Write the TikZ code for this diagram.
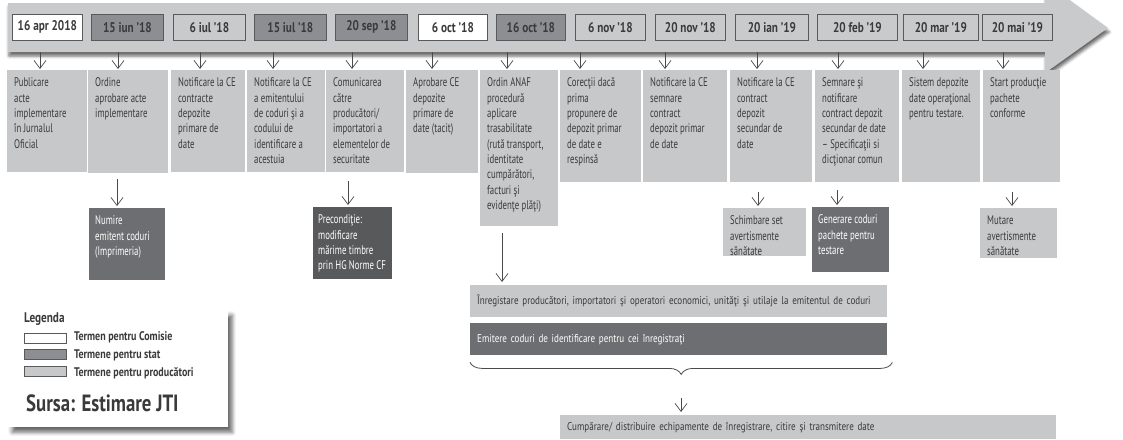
\documentclass[tikz,border=0pt]{standalone}
\usepackage{fontspec}
\setmainfont{PT Sans}[FakeStretch=0.7]
\newfontfamily\widef{PT Sans}[FakeStretch=0.8]
\usetikzlibrary{arrows.meta,shadows.blur,decorations.pathreplacing}
\definecolor{bandc}{HTML}{C9CACC}
\definecolor{litec}{HTML}{C7C8CA}
\definecolor{midc}{HTML}{8D8E91}
\definecolor{darkc}{HTML}{6D6E71}
\definecolor{darkerc}{HTML}{58595B}
\definecolor{inkc}{HTML}{3A3A3C}
\definecolor{edgec}{HTML}{58595B}
\definecolor{arrc}{HTML}{4A4A4C}
\newcommand\boxfont{\fontsize{12.5}{15.3}\selectfont}
\newcommand\datefont{\widef\fontsize{14}{16}\selectfont\bfseries}
\tikzset{
  lbox/.style={fill=litec, text=inkc, anchor=north west, inner xsep=7pt, inner ysep=6pt},
  dbox/.style={fill=darkc, text=white, anchor=north west, inner xsep=6pt, inner ysep=6pt},
  pbox/.style={fill=darkerc, text=white, anchor=north west, inner xsep=5pt, inner ysep=6pt},
  datebox/.style={draw=edgec, line width=0.8pt, anchor=north west, minimum height=26pt, inner sep=0pt, text=inkc, font=\datefont},
  arr/.style={draw=arrc, line width=0.7pt, -{Straight Barb[length=8pt,width=12pt]}},
  widebox/.style={anchor=north west, inner xsep=7pt, inner ysep=0pt, align=left, font=\widef\fontsize{11.3}{13}\selectfont},
  legtext/.style={anchor=west, inner sep=0pt, text=inkc, font=\widef\fontsize{12.5}{15}\selectfont\bfseries},
  swatch/.style={draw=edgec, line width=0.7pt, minimum width=42pt, minimum height=10pt, inner sep=0pt, anchor=north west},
}
% name, x, y, w, h, style, lines
\newcommand\tb[7]{\node[#6] (#1) at (#2,#3) {\parbox[t][\dimexpr#5pt-12pt\relax][t]{\dimexpr#4pt-10pt\relax}{\boxfont\begin{tabular}[t]{@{}l@{}}#7\end{tabular}}};}
\begin{document}
\begin{tikzpicture}[x=1pt,y=-1pt]
\useasboundingbox (0,0) rectangle (1123,439);
% band arrow
\fill[bandc, blur shadow={shadow xshift=1pt, shadow yshift=-4pt, shadow blur radius=3pt, shadow opacity=60}]
  (8,3) -- (1045,3) -- (1045,-18) -- (1108,28) -- (1045,73) -- (1045,52) -- (8,52) -- cycle;
\coordinate (bandS) at (0,52);
% date boxes
\node[datebox, fill=white, minimum width=70pt] (d1) at (12,14) {16 apr 2018};
\node[datebox, fill=midc, minimum width=72pt] (d2) at (91,14) {15 iun ’18};
\node[datebox, fill=bandc, minimum width=72pt] (d3) at (173,14) {6 iul ’18};
\node[datebox, fill=midc, minimum width=72pt] (d4) at (254,14) {15 iul ’18};
\node[datebox, fill=midc, minimum width=72pt] (d5) at (335,14) {20 sep ’18};
\node[datebox, fill=white, minimum width=69pt] (d6) at (418,14) {6 oct ’18};
\node[datebox, fill=midc, minimum width=69pt] (d7) at (496,14) {16 oct ’18};
\node[datebox, fill=bandc, minimum width=70pt] (d8) at (575,14) {6 nov ’18};
\node[datebox, fill=bandc, minimum width=70pt] (d9) at (655,14) {20 nov ’18};
\node[datebox, fill=bandc, minimum width=73pt] (d10) at (735,14) {20 ian ’19};
\node[datebox, fill=bandc, minimum width=80pt] (d11) at (817,14) {20 feb ’19};
\node[datebox, fill=bandc, minimum width=75pt] (d12) at (903,14) {20 mar ’19};
\node[datebox, fill=bandc, minimum width=70pt] (d13) at (982,14) {20 mai ’19};
% top row boxes
\tb{b1}{7}{70}{76}{102}{lbox}{Publicare\\acte\\implementare\\în Jurnalul\\Oficial}
\tb{b2}{88}{70}{76}{103}{lbox}{Ordine\\aprobare acte\\implementare}
\tb{b3}{171}{70}{70}{102}{lbox}{Notificare la CE\\contracte\\depozite\\primare de\\date}
\tb{b4}{247}{70}{74}{102}{lbox}{Notificare la CE\\a emitentului\\de coduri şi a\\codului de\\identificare a\\acestuia}
\tb{b5}{326}{70}{74}{102}{lbox}{Comunicarea\\către\\producători/\\importatori a\\elementelor de\\securitate}
\tb{b6}{406}{70}{68}{103}{lbox}{Aprobare CE\\depozite\\primare de\\date (tacit)}
\tb{b7}{480}{70}{74}{156}{lbox}{Ordin ANAF\\procedură\\aplicare\\trasabilitate\\(rută transport,\\identitate\\cumpărători,\\facturi şi\\evidenţe plăţi)}
\tb{b8}{560}{70}{77}{112}{lbox}{Corecţii dacă\\prima\\propunere de\\depozit primar\\de date e\\respinsă}
\tb{b9}{643}{70}{80}{112}{lbox}{Notificare la CE\\semnare\\contract\\depozit primar\\de date}
\tb{b10}{730}{70}{78}{112}{lbox}{Notificare la CE\\contract\\depozit\\secundar de\\date}
\tb{b11}{815}{70}{80}{112}{lbox}{Semnare şi\\notificare\\contract depozit\\secundar de date\\– Specificaţii si\\dicţionar comun}
\tb{b12}{902}{70}{74}{112}{lbox}{Sistem depozite\\date operaţional\\pentru testare.}
\tb{b13}{983}{70}{73}{112}{lbox}{Start producţie\\pachete\\conforme}
% arrows from band
\foreach \b/\x in {b1/40,b2/118,b3/200,b4/273,b5/352,b6/432,b7/507,b8/580,b9/665,b10/757,b11/838,b12/923,b13/1003}
  \draw[arr, shorten >=1pt] (bandS -| \x,0) -- (\b.north -| \x,0);
% second row
\tb{n1}{89}{208}{74}{72}{dbox}{Numire\\emitent coduri\\(Imprimeria)}
\tb{n2}{313}{207}{79}{72}{pbox}{Precondiţie:\\modificare\\mărime timbre\\prin HG Norme CF}
\tb{n3}{723}{208}{79}{48}{lbox}{Schimbare set\\avertismente\\sănătate}
\tb{n4}{812}{207}{75}{65}{dbox}{Generare coduri\\pachete pentru\\testare}
\tb{n5}{980}{208}{73}{50}{lbox}{Mutare\\avertismente\\sănătate}
\draw[arr, shorten <=6pt, shorten >=2pt] (b2.south -| 117,0) -- (n1.north -| 117,0);
\draw[arr, shorten <=9pt, shorten >=2pt] (b5.south -| 348,0) -- (n2.north -| 348,0);
\draw[arr, shorten <=10pt, shorten >=2pt] (b10.south -| 758,0) -- (n3.north -| 758,0);
\draw[arr, shorten <=8pt, shorten >=2pt] (b11.south -| 837,0) -- (n4.north -| 837,0);
\draw[arr, shorten <=10pt, shorten >=2pt] (b13.south -| 1012,0) -- (n5.north -| 1012,0);
% wide boxes
\node[widebox, fill=litec, text=inkc, text width=403pt, minimum height=32pt] (w1) at (470,285)
  {Înregistare producători, importatori şi operatori economici, unităţi şi utilaje la emitentul de coduri};
\node[widebox, fill=darkc, text=white, text width=403pt, minimum height=32pt] (w2) at (470,323)
  {Emitere coduri de identificare pentru cei înregistraţi};
\draw[arr, shorten <=7pt, shorten >=3pt] (b7.south -| 502,0) -- (w1.north -| 502,0);
\draw[draw=arrc, line width=0.8pt, decorate, decoration={brace, amplitude=12pt, mirror}]
  ([yshift=-7pt]w2.south west) -- ([xshift=5pt,yshift=-7pt]w2.south east);
\coordinate (bt) at (681,375);
\node[widebox, fill=litec, text=inkc, text width=482pt, minimum height=24pt] (w3) at (560,415)
  {Cumpărare/ distribuire echipamente de înregistrare, citire şi transmitere date};
\draw[arr, shorten <=23pt, shorten >=3pt] (bt) -- (bt |- w3.north);
% legend
\node[fill=white, anchor=north west, minimum width=220pt, minimum height=117pt, inner sep=0pt,
  blur shadow={shadow xshift=4pt, shadow yshift=-5pt, shadow blur radius=4pt, shadow opacity=60}] (leg) at (8,310) {};
\node[legtext, font=\widef\fontsize{14}{16}\selectfont\bfseries] (legt) at (24,319) {Legenda};
\node[swatch, fill=white] (s1) at (24,333) {};
\node[swatch, fill=midc] (s2) at (24,349) {};
\node[swatch, fill=litec] (s3) at (24,366) {};
\node[legtext] (l1) at (74,337) {Termen pentru Comisie};
\node[legtext] (l2) at (74,355) {Termene pentru stat};
\node[legtext] (l3) at (74,373) {Termene pentru producători};
\node[legtext, font=\widef\fontsize{23.5}{26}\selectfont\bfseries] (src) at (26,403) {Sursa: Estimare JTI};
\end{tikzpicture}
\end{document}
